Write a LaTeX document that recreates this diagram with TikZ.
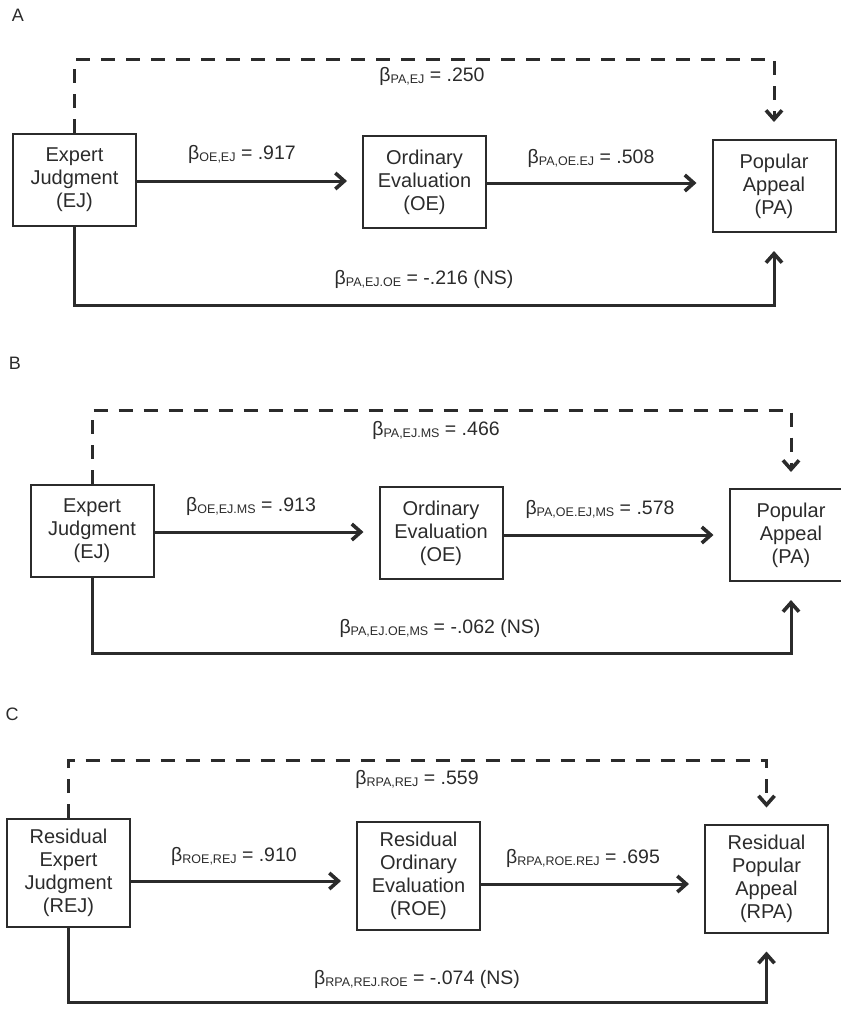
\documentclass[tikz,border=0pt]{standalone}
\usepackage{fontspec}
\setmainfont{Liberation Sans}
\usetikzlibrary{arrows.meta}
\definecolor{ink}{HTML}{2B2B2B}
\newcommand\bcoef[2]{β\raisebox{-2.5pt}{\fontsize{12.5}{13}\selectfont #1} = #2}
\begin{document}
\begin{tikzpicture}[x=1pt,y=-1pt,
  box/.style={draw=ink, line width=2pt, text=ink, align=center, inner sep=0pt,
    minimum width=123pt, font=\fontsize{20}{23}\selectfont},
  boxA/.style={box, minimum height=92pt},
  boxC/.style={box, minimum height=108pt},
  lbl/.style={text=ink, inner sep=0pt, font=\fontsize{19.5}{23}\selectfont},
  panel/.style={text=ink, inner sep=0pt, font=\fontsize{18}{20}\selectfont},
  conn/.style={draw=ink, line width=3pt, -{Straight Barb[length=9pt,width=16pt,line width=3.6pt]}},
  dconn/.style={conn, dash pattern=on 14pt off 11pt},
]
\useasboundingbox (0,0) rectangle (841,1010);

% ---------- Panel A ----------
\node[panel] (pA) at (18,15) {A};
\node[boxA] (aEJ) at (74.5,179.5) {Expert\\Judgment\\(EJ)};
\node[boxA] (aOE) at (424.5,182) {Ordinary\\Evaluation\\(OE)};
\node[boxA] (aPA) at (774,186) {Popular\\Appeal\\(PA)};
\coordinate (aT) at (75,59);
\coordinate (aB) at (75,305);
\draw[dconn, shorten >=17pt] (aEJ.north) -- (aEJ.north |- aT) -| (aPA.north);
\draw[conn, shorten >=18pt] (aEJ.south) -- (aEJ.south |- aB) -| (aPA.south);
\draw[conn, shorten >=15pt] (aEJ.east |- 0,181) -- (aOE.west |- 0,181);
\draw[conn, shorten >=15pt] (aOE.east |- 0,183) -- (aPA.west |- 0,183);
\node[lbl] (a1) at (242,154) {\bcoef{OE,EJ}{.917}};
\node[lbl] (a2) at (432,76) {\bcoef{PA,EJ}{.250}};
\node[lbl] (a3) at (591,158) {\bcoef{PA,OE.EJ}{.508}};
\node[lbl] (a4) at (424,279) {\bcoef{PA,EJ.OE}{-.216 (NS)}};

% ---------- Panel B ----------
\node[panel] (pB) at (15,363) {B};
\node[boxA] (bEJ) at (92,530.5) {Expert\\Judgment\\(EJ)};
\node[boxA] (bOE) at (441,533) {Ordinary\\Evaluation\\(OE)};
\node[boxA] (bPA) at (791,535) {Popular\\Appeal\\(PA)};
\coordinate (bT) at (92,410);
\coordinate (bB) at (92,653);
\draw[dconn, shorten >=16pt] (bEJ.north) -- (bEJ.north |- bT) -| (bPA.north);
\draw[conn, shorten >=18pt] (bEJ.south) -- (bEJ.south |- bB) -| (bPA.south);
\draw[conn, shorten >=15pt] (bEJ.east |- 0,532) -- (bOE.west |- 0,532);
\draw[conn, shorten >=15pt] (bOE.east |- 0,535) -- (bPA.west |- 0,535);
\node[lbl] (b1) at (251,506) {\bcoef{OE,EJ.MS}{.913}};
\node[lbl] (b2) at (436,430) {\bcoef{PA,EJ.MS}{.466}};
\node[lbl] (b3) at (600,509) {\bcoef{PA,OE.EJ,MS}{.578}};
\node[lbl] (b4) at (440,628) {\bcoef{PA,EJ.OE,MS}{-.062 (NS)}};

% ---------- Panel C ----------
\node[panel] (pC) at (12,714) {C};
\node[boxC] (cEJ) at (68.5,873) {Residual\\Expert\\Judgment\\(REJ)};
\node[boxC] (cOE) at (418.5,875.5) {Residual\\Ordinary\\Evaluation\\(ROE)};
\node[boxC] (cPA) at (766.5,878.5) {Residual\\Popular\\Appeal\\(RPA)};
\coordinate (cT) at (69,760);
\coordinate (cB) at (69,1002);
\draw[dconn, shorten >=16pt] (cEJ.north) -- (cEJ.north |- cT) -| (cPA.north);
\draw[conn, shorten >=18pt] (cEJ.south) -- (cEJ.south |- cB) -| (cPA.south);
\draw[conn, shorten >=15pt] (cEJ.east |- 0,881) -- (cOE.west |- 0,881);
\draw[conn, shorten >=15pt] (cOE.east |- 0,884) -- (cPA.west |- 0,884);
\node[lbl] (c1) at (234,856) {\bcoef{ROE,REJ}{.910}};
\node[lbl] (c2) at (417,779) {\bcoef{RPA,REJ}{.559}};
\node[lbl] (c3) at (583,858) {\bcoef{RPA,ROE.REJ}{.695}};
\node[lbl] (c4) at (417,979) {\bcoef{RPA,REJ.ROE}{-.074 (NS)}};
\end{tikzpicture}
\end{document}
